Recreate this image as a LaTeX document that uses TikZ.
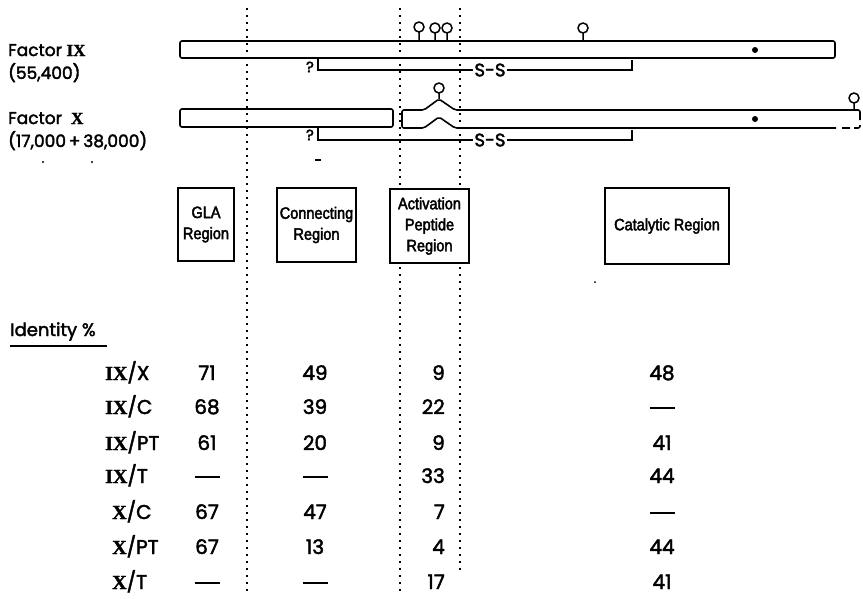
\documentclass[tikz,border=0pt]{standalone}
\usepackage{fontspec}
\setmainfont{Poppins}[FakeBold=2.2]
\newfontfamily\romfont{Liberation Serif}[BoldFeatures={FakeBold=1.5}]
\newfontfamily\narrowfont{Liberation Sans}[FakeStretch=0.88, FakeBold=2.5]
\newcommand\fIX{{\romfont\bfseries IX}}
\newcommand\fX{{\romfont\bfseries X}}
\newcommand\nil{\rule[5pt]{25pt}{2pt}}
\tikzset{
  bar/.style={line width=1.6pt, rounded corners=2pt},
  divider/.style={line width=1.6pt, dash pattern=on 2pt off 5pt},
  region/.style={draw, line width=1.5pt, fill=white, align=center, inner sep=0pt,
    font=\narrowfont\fontsize{16.5}{21}\selectfont},
  sugar/.style={line width=1.5pt},
  link/.style={line width=1.5pt},
  cell/.style={anchor=base, font=\fontsize{20}{22}\selectfont},
}
\begin{document}
\begin{tikzpicture}[x=1pt, y=-1pt, font=\fontsize{17}{19}\selectfont]
\useasboundingbox (0,0) rectangle (863,598);
% region dividers
\draw[divider] (247,8) -- (247,595);
\draw[divider] (400,8) -- (400,593);
\draw[divider] (460,8) -- (460,572);

% factor IX
\node[anchor=base west, inner sep=0pt] (f9) at (8,56) {Factor \fIX};
\node[anchor=base west, inner sep=0pt] (m9) at (8,79) {(55,400)};
\draw[bar] (180,41) rectangle (835,58);
\coordinate (b9l) at (318,58); \coordinate (b9r) at (632,60);
\node[inner sep=1pt, font=\fontsize{18}{18}\selectfont] (ss9) at (490,70) {S-S};
\node[inner sep=0pt, font=\fontsize{15}{15}\selectfont] (q9) at (310,67) {?};
\draw[link] (b9l) |- (ss9.west);
\draw[link] (ss9.east) -| (b9r);
\foreach \x/\y in {419/27, 435/28, 447/28, 583/28}
  \draw[sugar] (\x,41) -- (\x,\y+5) (\x,\y) circle (5pt);
\fill (755,50) circle (3pt);

% factor X
\node[anchor=base west, inner sep=0pt] (f10) at (8,124) {Factor \ \fX};
\node[anchor=base west, inner sep=0pt] (m10) at (8,147) {(17,000\,+\,38,000)};
\draw[bar] (180,109) rectangle (393,127);
\draw[bar] (860,120) -- (860,110) -- (455,110) -- (439,99) -- (424,110) -- (402,110)
  -- (402,128) -- (424,128) -- (439,117) -- (455,128) -- (836,128);
\draw[bar, dash pattern=on 8pt off 4pt] (842,128) -- (860,128) -- (860,123);
\coordinate (b10l) at (318,127); \coordinate (b10r) at (632,130);
\node[inner sep=1pt, font=\fontsize{18}{18}\selectfont] (ss10) at (490,140) {S-S};
\node[inner sep=0pt, font=\fontsize{15}{15}\selectfont] (q10) at (310,135) {?};
\draw[link] (b10l) |- (ss10.west);
\draw[link] (ss10.east) -| (b10r);
\draw[sugar] (439,99) -- (439,93) (439,88) circle (5pt);
\draw[sugar] (854,110) -- (854,103) (854,98) circle (5pt);
\fill (755,119) circle (3pt);

% specks
\fill (43,162) circle (1.2pt);
\fill (92,162) circle (1.2pt);
\draw[line width=1.2pt] (315,160) -- (321,160);
\fill (595,282) circle (1pt);

% regions
\node[region, minimum width=56pt, minimum height=73pt] (gla) at (206,224.5) {GLA\\Region};
\node[region, minimum width=79pt, minimum height=74pt] (conn) at (316.5,225) {Connecting\\Region};
\node[region, minimum width=79pt, minimum height=74pt] (act) at (429.5,226) {Activation\\Peptide\\Region};
\node[region, minimum width=124pt, minimum height=76pt] (cat) at (667,226) {Catalytic Region};

% identity table
\node[anchor=base west, inner sep=0pt, font=\fontsize{18}{20}\selectfont] (ident) at (10,336) {Identity \%};
\draw[line width=1.3pt] (10,346) -- (107,346);
\foreach \rn/\tail/\lx/\a/\b/\c/\d/\y [count=\i] in {
  \fIX/X/105/71/49/9/48/380, \fIX/C/105/68/39/22/\nil/414,
  \fIX/PT/105/61/20/9/41/450, \fIX/T/105/\nil/\nil/33/44/483,
  \fX/C/112/67/47/7/\nil/519, \fX/PT/112/67/13/4/44/554,
  \fX/T/112/\nil/\nil/17/41/589} {
  \node[cell, anchor=base west, inner sep=0pt] (pair\i) at (\lx,\y) {\rn/\tail};
  \node[cell] (gla\i) at (207,\y) {\a};
  \node[cell] (conn\i) at (315,\y) {\b};
  \node[cell, anchor=base east, inner sep=0pt] (act\i) at (445,\y) {\c};
  \node[cell] (cat\i) at (662,\y) {\d};
}
\end{tikzpicture}
\end{document}
